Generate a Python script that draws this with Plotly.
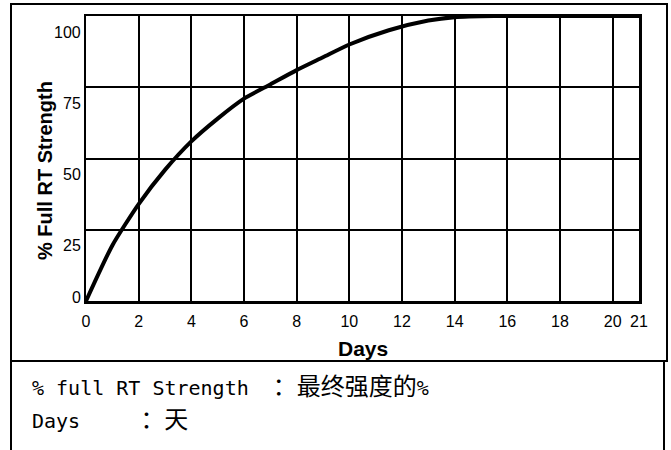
import plotly.graph_objects as go

# ---- data ----
days = [0, 1, 2, 3, 4, 5, 6, 7, 8, 9, 10, 11.5, 13, 14, 15.5, 21]
strength = [0, 19.5, 34, 46, 56, 64, 71, 76, 81, 85.5, 90, 95, 98.4, 99.6, 100, 100]
x_ticks = [0, 2, 4, 6, 8, 10, 12, 14, 16, 18, 20, 21]
y_ticks = [0, 25, 50, 75, 100]
x_title = "Days"
y_title = "% Full RT Strength"
legend_lines = [
    ("% full RT Strength  ", "：最终强度的", "%"),
    ("Days     ", "：天", ""),
]

# ---- layout geometry (pixels) ----
W, H = 671, 450
L, R, T, B = 86, 32, 16, 149
PW, PH = W - L - R, H - T - B


def px(xs):
    # screen x -> paper x
    return (xs - L) / PW


def py(ys):
    # screen y -> paper y
    return (H - B - ys) / PH


SANS = "Liberation Sans, Arial, sans-serif"
MONO = "DejaVu Sans Mono, Noto Sans CJK SC, monospace"

fig = go.Figure()
fig.add_trace(go.Scatter(
    x=days, y=strength, mode="lines",
    line=dict(color="black", width=4, shape="spline", smoothing=0.6),
    hoverinfo="skip", showlegend=False,
))

fig.update_layout(
    width=W, height=H,
    margin=dict(l=L, r=R, t=T, b=B, pad=0),
    paper_bgcolor="white", plot_bgcolor="white",
    showlegend=False,
    xaxis=dict(
        range=[0, 21], tickvals=x_ticks, ticktext=[str(v) for v in x_ticks],
        showgrid=True, gridcolor="black", gridwidth=2,
        showline=True, linecolor="black", linewidth=2.5, mirror=True,
        ticks="", zeroline=False, ticklabelstandoff=4,
        tickfont=dict(family=SANS, size=16, color="black"),
    ),
    yaxis=dict(
        range=[0, 100], tickvals=y_ticks, showticklabels=False,
        showgrid=True, gridcolor="black", gridwidth=2,
        showline=True, linecolor="black", linewidth=2.5, mirror=True,
        ticks="", zeroline=False,
    ),
)

# y tick labels (slightly below their grid lines, as in the reference)
for v in y_ticks:
    fig.add_annotation(
        xref="paper", yref="y", x=0, y=v, xanchor="right", yanchor="middle",
        xshift=-3, yshift=(4 if v == 0 else -16),
        text=str(v), showarrow=False,
        font=dict(family=SANS, size=16, color="black"),
    )

# axis titles
fig.add_annotation(
    xref="paper", yref="paper", x=0.5, y=py(348), xanchor="center", yanchor="middle",
    text="<b>%s</b>" % x_title, showarrow=False,
    font=dict(family=SANS, size=21, color="black"),
)
fig.add_annotation(
    xref="paper", yref="paper", x=px(45), y=py(171), xanchor="center", yanchor="middle",
    text="<b>%s</b>" % y_title, textangle=-90, showarrow=False,
    font=dict(family=SANS, size=20, color="black"),
)

# frames
frame = dict(color="black", width=2)
fig.add_shape(type="rect", xref="paper", yref="paper",
              x0=px(11), x1=px(667), y0=py(361), y1=py(4), line=frame)
fig.add_shape(type="line", xref="paper", yref="paper",
              x0=px(11), x1=px(11), y0=py(361), y1=py(452), line=frame)
fig.add_shape(type="line", xref="paper", yref="paper",
              x0=px(664), x1=px(664), y0=py(361), y1=py(452), line=frame)
fig.add_shape(type="line", xref="paper", yref="paper",
              x0=px(11), x1=px(664), y0=py(361), y1=py(361), line=frame)

# glossary text below the chart
for i, (lat, cjk, tail) in enumerate(legend_lines):
    txt = lat.replace(" ", "&nbsp;") + '<span style="font-size:24px">' + cjk + "</span>" + tail
    fig.add_annotation(
        xref="paper", yref="paper", x=px(30), y=py(387 + 33 * i),
        xanchor="left", yanchor="middle", align="left",
        text=txt, showarrow=False,
        font=dict(family=MONO, size=20, color="black"),
    )

fig.write_html(
    "out.html",
    config={"displayModeBar": False, "staticPlot": True},
    post_script="document.body.style.margin='0';document.body.style.overflow='hidden';",
)
